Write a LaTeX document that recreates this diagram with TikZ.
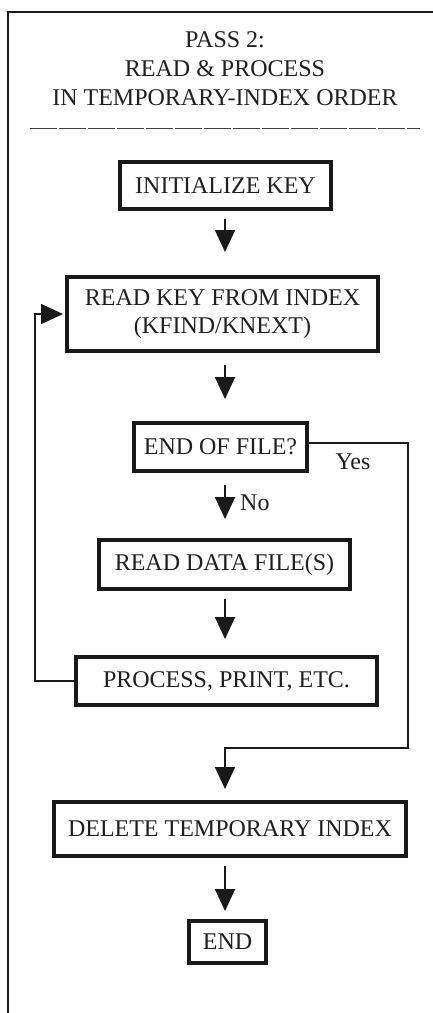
\documentclass[tikz,border=0pt]{standalone}
\usepackage{fontspec}
\setmainfont{Liberation Serif}
\usetikzlibrary{arrows.meta}
\begin{document}
\begin{tikzpicture}[x=1pt,y=-1pt,
  txt/.style={font=\fontsize{24}{28}\selectfont, text=black!88},
  box/.style={draw=black!90, line width=4pt, inner sep=0pt, align=center, txt},
  conn/.style={draw=black!90, line width=1.8pt},
  arr/.style={conn, -{Triangle[width=20pt,length=22pt]}},
  lbl/.style={txt, inner sep=0pt}]
\useasboundingbox (0,0) rectangle (433,1013);
% frame
\draw[draw=black!90, line width=2pt] (8,1013) -- (8,12) -- (433,12);
% title
\node[txt, align=center, inner sep=0pt, font=\fontsize{24}{29}\selectfont] (title) at (225,69)
  {PASS 2:\\READ \& PROCESS\\IN TEMPORARY-INDEX ORDER};
\draw[draw=black!75, line width=1pt, dash pattern=on 27pt off 2pt] (30,128) -- (420,128);
% boxes
\node[box, minimum width=211pt, minimum height=47pt] (init) at (225.5,185.5) {INITIALIZE KEY};
\node[box, minimum width=311pt, minimum height=74pt] (readkey) at (222.5,314) {READ KEY FROM INDEX\\(KFIND/KNEXT)};
\node[box, minimum width=173pt, minimum height=48pt] (eof) at (220.5,447) {END OF FILE?};
\node[box, minimum width=251pt, minimum height=49pt] (readdata) at (224.5,564.5) {READ DATA FILE(S)};
\node[box, minimum width=301pt, minimum height=48pt] (process) at (226.5,681) {PROCESS, PRINT, ETC.};
\node[box, minimum width=352pt, minimum height=54pt] (delete) at (230,829) {DELETE TEMPORARY INDEX};
\node[box, minimum width=77pt, minimum height=42pt] (endb) at (227.5,942) {END};
% helper coordinates
\coordinate (axis) at (225,0);
\coordinate (loopx) at (35,0);
\coordinate (yesx) at (408,0);
\coordinate (merge) at (225,748);
% straight arrows
\draw[arr, shorten <=8pt, shorten >=23pt] (axis |- init.south) -- (axis |- readkey.north);
\draw[arr, shorten <=12pt, shorten >=22pt] (axis |- readkey.south) -- (axis |- eof.north);
\draw[arr, shorten <=12pt, shorten >=19pt] (axis |- eof.south) -- (axis |- readdata.north);
\draw[arr, shorten <=8pt, shorten >=16pt] (axis |- readdata.south) -- (axis |- process.north);
\draw[arr, shorten <=8pt, shorten >=8pt] (axis |- delete.south) -- (axis |- endb.north);
% loop back
\draw[arr, shorten >=2pt] (process.west) -- (loopx |- process.west) |- (readkey.west);
% yes branch
\draw[arr, shorten >=11pt] ([yshift=4pt]eof.east) -| (yesx |- merge) -- (merge) -- (axis |- delete.north);
% labels
\node[lbl] (yes) at (353,462) {Yes};
\node[lbl, anchor=west] (no) at (240,503) {No};
\end{tikzpicture}
\end{document}
